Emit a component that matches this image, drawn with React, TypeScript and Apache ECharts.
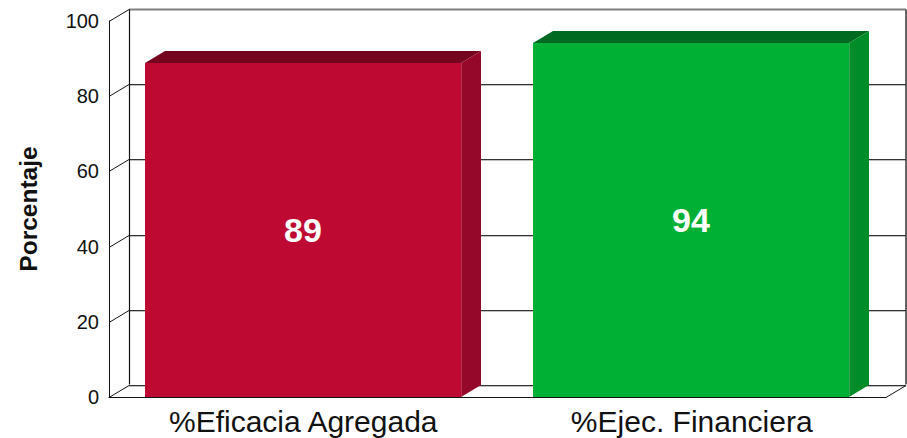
import React, { useEffect, useRef } from "react";
import * as echarts from "echarts";

const categories = ["%Eficacia Agregada", "%Ejec. Financiera"];
const labelValues = [89, 94];
const barHeights = [88.8, 94.1];
const yTicks = [0, 20, 40, 60, 80, 100];
const faceColors = [
  { front: "#BE0A32", top: "#75041F", side: "#960829", edge: "#C9506C" },
  { front: "#00B034", top: "#006A20", side: "#008C28", edge: "#4FB86C" },
];
const DX = 20;
const DY = 12.5;
const BAR_DY = 12;
const FONT = '"Liberation Sans", Arial, sans-serif';

function renderWall(params: any, api: any) {
  const v = api.value(0);
  const c = params.coordSys;
  const y = Math.round(api.coord([0, v])[1]) + 0.5;
  const backY = Math.round(y - DY) + 0.5;
  const isTop = v === 100;
  const isBottom = v === 0;
  const children: any[] = [];
  const left = c.x;
  const right = c.x + c.width;
  children.push({
    type: "line",
    shape: { x1: left, y1: y, x2: left + DX, y2: backY },
    style: { stroke: "#111", lineWidth: 1 },
  });
  if (isTop) {
    children.push({
      type: "line",
      shape: { x1: left + DX, y1: backY, x2: right + DX, y2: backY },
      style: { stroke: "#808080", lineWidth: 2 },
    });
    children.push({
      type: "line",
      shape: { x1: left + DX + 0.5, y1: backY, x2: left + DX + 0.5, y2: c.y + c.height - DY },
      style: { stroke: "#111", lineWidth: 1.2 },
    });
    children.push({
      type: "line",
      shape: { x1: right + DX, y1: backY, x2: right + DX, y2: c.y + c.height - DY },
      style: { stroke: "#333", lineWidth: 1.5 },
    });
  } else {
    children.push({
      type: "line",
      shape: { x1: left + DX, y1: backY, x2: right + DX, y2: backY },
      style: { stroke: "#333", lineWidth: 1 },
    });
    children.push({
      type: "line",
      shape: { x1: left + DX, y1: backY + 1, x2: right + DX, y2: backY + 1 },
      style: { stroke: "#C0C0C0", lineWidth: 1 },
    });
  }
  if (isBottom) {
    children.push({
      type: "line",
      shape: { x1: right, y1: y, x2: right + DX, y2: backY },
      style: { stroke: "#111", lineWidth: 1 },
    });
  }
  return { type: "group", children };
}

function renderBar(params: any, api: any) {
  const idx = api.value(0);
  const val = api.value(1);
  const [cx, yTop] = api.coord([idx, val]);
  const [, y0] = api.coord([idx, 0]);
  const w = api.size([1, 0])[0] * 0.814;
  const x = Math.floor(cx - w / 2);
  const top = Math.round(yTop);
  const bw = Math.round(w);
  const col = faceColors[params.dataIndex];
  return {
    type: "group",
    children: [
      {
        type: "polygon",
        shape: { points: [[x, top], [x + DX, top - BAR_DY], [x + bw + DX, top - BAR_DY], [x + bw, top]] },
        style: { fill: col.top },
      },
      {
        type: "polygon",
        shape: { points: [[x + bw, top], [x + bw + DX, top - BAR_DY], [x + bw + DX, y0 - BAR_DY], [x + bw, y0]] },
        style: { fill: col.side },
      },
      { type: "rect", shape: { x, y: top, width: bw, height: y0 - top }, style: { fill: col.front } },
      {
        type: "line",
        shape: { x1: x + bw + 0.5, y1: top, x2: x + bw + 0.5, y2: y0 },
        style: { stroke: col.edge, lineWidth: 1, opacity: 0.6 },
      },
      {
        type: "text",
        style: {
          x: x + bw / 2,
          y: (top + y0) / 2,
          text: String(labelValues[params.dataIndex]),
          fill: "#FFFFFF",
          font: `bold 34px ${FONT}`,
          align: "center",
          verticalAlign: "middle",
        },
      },
    ],
  };
}

export default function App() {
  const ref = useRef<HTMLDivElement>(null);
  useEffect(() => {
    const chart = echarts.init(ref.current!, undefined, { renderer: "svg" });
    chart.setOption({
      animation: false,
      backgroundColor: "#FFFFFF",
      grid: { left: 109, top: 21, width: 777, height: 376 },
      xAxis: {
        type: "category",
        data: categories,
        axisTick: { show: false },
        axisLine: { show: true, lineStyle: { color: "#111", width: 1 } },
        axisLabel: { color: "#111", fontFamily: FONT, fontSize: 30, margin: 9 },
      },
      yAxis: {
        type: "value",
        min: 0,
        max: 100,
        interval: 20,
        name: "Porcentaje",
        nameLocation: "middle",
        nameGap: 68,
        nameTextStyle: { color: "#111", fontFamily: FONT, fontWeight: "bold", fontSize: 24.5 },
        axisTick: { show: false },
        splitLine: { show: false },
        axisLine: { show: true, lineStyle: { color: "#111", width: 1 } },
        axisLabel: { color: "#111", fontFamily: FONT, fontSize: 20, margin: 10 },
      },
      series: [
        {
          type: "custom",
          coordinateSystem: "cartesian2d",
          renderItem: renderWall,
          data: yTicks.map((t) => [t]),
          encode: { y: 0 },
          silent: true,
          z: 1,
        },
        {
          type: "custom",
          coordinateSystem: "cartesian2d",
          renderItem: renderBar,
          data: barHeights.map((v, i) => [i, v]),
          encode: { x: 0, y: 1 },
          silent: true,
          z: 2,
        },
      ],
    });
    return () => chart.dispose();
  }, []);
  return <div ref={ref} style={{ position: "absolute", left: 0, top: 0, width: 907, height: 438 }} />;
}
